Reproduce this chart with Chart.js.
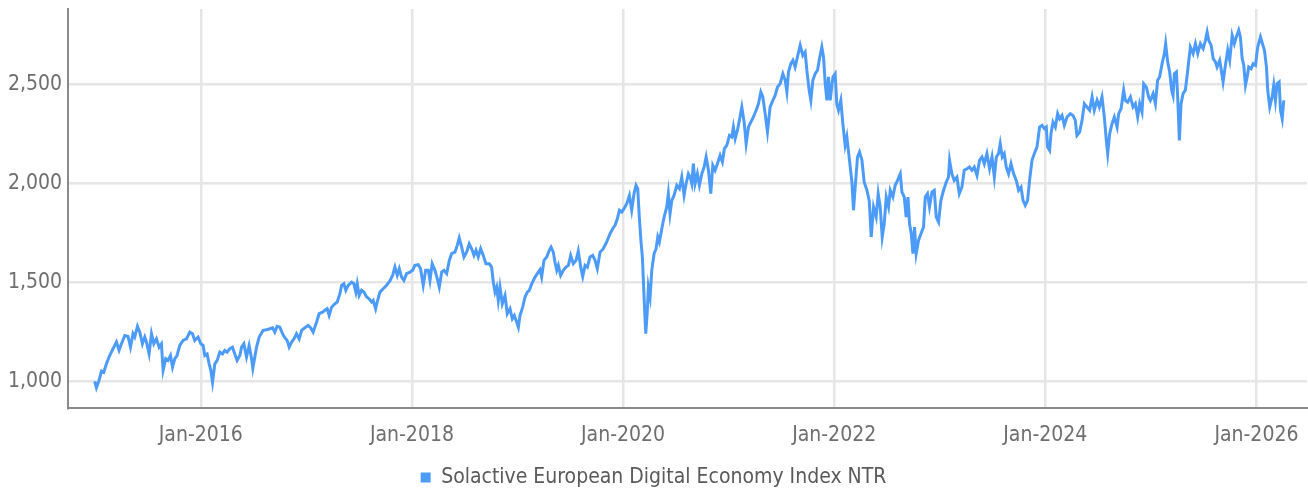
<!DOCTYPE html>
<html lang="en">
<head>
    <meta charset="UTF-8">
    <title>Solactive European Digital Economy Index NTR</title>
    <script src="https://cdn.jsdelivr.net/npm/chart.js"></script>
    <style>
        html, body { margin: 0; padding: 0; background: #ffffff; }
        #contenedor { width: 1308px; height: 493px; }
    </style>
</head>
<body>
    <div id="contenedor">
        <canvas id="grafico" width="1308" height="493"></canvas>
    </div>

    <script>
        // Series name and axis ticks
        const seriesName = 'Solactive European Digital Economy Index NTR';
        const tickYears = [2016, 2018, 2020, 2022, 2024, 2026];
        const yTicks = [1000, 1500, 2000, 2500];

        // Dates as decimal years
        const years = [
            2014.995, 2015.011, 2015.036, 2015.059, 2015.081, 2015.106, 2015.137, 2015.169, 2015.201, 2015.226,
            2015.248, 2015.280, 2015.311, 2015.334, 2015.358, 2015.374, 2015.400, 2015.422, 2015.447, 2015.469,
            2015.485, 2015.510, 2015.533, 2015.555, 2015.580, 2015.605, 2015.627, 2015.643, 2015.668, 2015.690,
            2015.713, 2015.732, 2015.754, 2015.775, 2015.801, 2015.832, 2015.864, 2015.896, 2015.921, 2015.943,
            2015.974, 2016.000, 2016.022, 2016.038, 2016.060, 2016.079, 2016.095, 2016.111, 2016.133, 2016.155,
            2016.180, 2016.206, 2016.227, 2016.249, 2016.275, 2016.300, 2016.322, 2016.344, 2016.370,
            2016.386, 2016.408, 2016.433, 2016.458, 2016.481, 2016.493, 2016.528, 2016.553, 2016.591, 2016.623,
            2016.654, 2016.680, 2016.701, 2016.723, 2016.749, 2016.774, 2016.796, 2016.818, 2016.837, 2016.860,
            2016.882, 2016.907, 2016.932, 2016.955, 2016.986, 2017.017, 2017.040, 2017.064, 2017.097, 2017.121,
            2017.154, 2017.175, 2017.197, 2017.216, 2017.239, 2017.270, 2017.292, 2017.318, 2017.334, 2017.355,
            2017.374, 2017.396, 2017.428, 2017.450, 2017.469, 2017.482, 2017.500, 2017.523, 2017.545, 2017.571,
            2017.595, 2017.618, 2017.633, 2017.656, 2017.671, 2017.697, 2017.728, 2017.760, 2017.791,
            2017.817, 2017.839, 2017.861, 2017.880, 2017.902, 2017.924, 2017.950, 2017.981, 2018.007, 2018.028,
            2018.060, 2018.082, 2018.107, 2018.130, 2018.155, 2018.171, 2018.192, 2018.218, 2018.240, 2018.259,
            2018.282, 2018.303, 2018.329, 2018.354, 2018.376, 2018.408, 2018.429, 2018.448, 2018.471, 2018.493,
            2018.518, 2018.543, 2018.566, 2018.588, 2018.607, 2018.628, 2018.651, 2018.676, 2018.701, 2018.733,
            2018.755, 2018.771, 2018.787, 2018.803, 2018.818, 2018.834, 2018.856, 2018.882, 2018.903, 2018.929,
            2018.951, 2018.970, 2018.992, 2019.008, 2019.024, 2019.049, 2019.071, 2019.093, 2019.112, 2019.135,
            2019.166, 2019.188, 2019.213,
            2019.229, 2019.251, 2019.277, 2019.301, 2019.318, 2019.339, 2019.355, 2019.372, 2019.387, 2019.409,
            2019.434, 2019.460, 2019.482, 2019.504, 2019.529, 2019.555, 2019.576, 2019.599, 2019.618, 2019.640,
            2019.662, 2019.687, 2019.713, 2019.735, 2019.756, 2019.782, 2019.813, 2019.845, 2019.877, 2019.902,
            2019.924, 2019.946, 2019.965, 2019.988, 2020.009, 2020.035, 2020.060, 2020.082, 2020.104, 2020.123,
            2020.139, 2020.154, 2020.168, 2020.183, 2020.199, 2020.215, 2020.230, 2020.240, 2020.256, 2020.272,
            2020.294, 2020.313, 2020.329, 2020.344, 2020.367, 2020.389, 2020.414, 2020.429, 2020.445, 2020.462,
            2020.483, 2020.509, 2020.534, 2020.556, 2020.578, 2020.597, 2020.619, 2020.635,
            2020.651, 2020.666, 2020.682, 2020.704, 2020.723, 2020.746, 2020.768, 2020.787, 2020.809, 2020.831,
            2020.850, 2020.872, 2020.894, 2020.919, 2020.941, 2020.960, 2020.983, 2021.008, 2021.030, 2021.045,
            2021.062, 2021.083, 2021.102, 2021.125, 2021.147, 2021.166, 2021.188, 2021.210, 2021.235, 2021.261,
            2021.283, 2021.305, 2021.324, 2021.346, 2021.368, 2021.393, 2021.419, 2021.441, 2021.463, 2021.488,
            2021.514, 2021.536, 2021.552, 2021.567, 2021.590, 2021.609, 2021.630, 2021.652, 2021.678, 2021.703,
            2021.725, 2021.741, 2021.763, 2021.779, 2021.798, 2021.820, 2021.842, 2021.861, 2021.883, 2021.899,
            2021.915, 2021.931, 2021.946, 2021.962, 2021.988, 2022.009, 2022.025, 2022.041, 2022.063, 2022.082,
            2022.104, 2022.120, 2022.145, 2022.168, 2022.183, 2022.199, 2022.221, 2022.240, 2022.263, 2022.284,
            2022.310, 2022.332, 2022.351, 2022.373, 2022.398, 2022.417, 2022.436, 2022.455, 2022.474, 2022.493,
            2022.515, 2022.531, 2022.556, 2022.578, 2022.600, 2022.626, 2022.642, 2022.664, 2022.682, 2022.699,
            2022.714, 2022.730, 2022.746, 2022.761, 2022.777, 2022.799, 2022.822, 2022.846, 2022.863, 2022.884,
            2022.903, 2022.926, 2022.948, 2022.967, 2022.989, 2023.011, 2023.036, 2023.062, 2023.083, 2023.093,
            2023.115, 2023.137, 2023.163, 2023.185, 2023.210, 2023.232, 2023.258, 2023.282, 2023.305, 2023.327,
            2023.353, 2023.377, 2023.400, 2023.422, 2023.447, 2023.472, 2023.495, 2023.517, 2023.536, 2023.557,
            2023.573, 2023.592, 2023.611, 2023.630, 2023.652, 2023.675, 2023.700, 2023.725, 2023.747, 2023.770,
            2023.789, 2023.810, 2023.832, 2023.851, 2023.874, 2023.896, 2023.921, 2023.946, 2023.969, 2023.991,
            2024.009, 2024.022, 2024.041, 2024.054, 2024.073, 2024.095, 2024.117, 2024.136, 2024.158, 2024.180,
            2024.206, 2024.237, 2024.262, 2024.284, 2024.300, 2024.325, 2024.348, 2024.370, 2024.395, 2024.420,
            2024.443, 2024.464, 2024.490, 2024.512, 2024.537, 2024.559, 2024.578, 2024.591, 2024.610, 2024.632,
            2024.654, 2024.680, 2024.695, 2024.718, 2024.742, 2024.758, 2024.780, 2024.806, 2024.831, 2024.853,
            2024.875, 2024.894, 2024.916, 2024.932, 2024.957, 2024.979, 2024.995, 2025.021, 2025.043, 2025.064,
            2025.083, 2025.106, 2025.128, 2025.140, 2025.159, 2025.178, 2025.197, 2025.210, 2025.223, 2025.242,
            2025.254, 2025.270, 2025.286, 2025.305, 2025.327, 2025.349, 2025.374, 2025.400, 2025.422, 2025.444,
            2025.469, 2025.495, 2025.517, 2025.533, 2025.548, 2025.571, 2025.590, 2025.611, 2025.627, 2025.652,
            2025.665, 2025.684, 2025.706, 2025.728, 2025.747, 2025.770, 2025.791, 2025.810, 2025.832, 2025.848,
            2025.865, 2025.880, 2025.896, 2025.912, 2025.927, 2025.950, 2025.969, 2025.991, 2026.012, 2026.038,
            2026.057, 2026.076, 2026.095, 2026.107, 2026.126, 2026.149, 2026.164, 2026.180, 2026.196, 2026.215,
            2026.228, 2026.244, 2026.259
        ];

        // Index level
        const values = [
            1000, 968, 1005, 1052, 1047, 1089, 1131, 1165, 1199, 1157,
            1190, 1232, 1227, 1173, 1241, 1224, 1278, 1249, 1190, 1224,
            1199, 1139, 1241, 1190, 1215, 1173, 1190, 1056, 1115, 1106,
            1131, 1072, 1115, 1131, 1182, 1207, 1215, 1249, 1241, 1207,
            1224, 1190, 1182, 1131, 1139, 1089, 1056, 996, 1089, 1106,
            1148, 1139, 1157, 1148, 1165, 1173, 1139, 1106, 1131,
            1173, 1190, 1123, 1182, 1115, 1066, 1173, 1224, 1258, 1261,
            1266, 1271, 1249, 1278, 1274, 1241, 1221, 1207, 1173, 1199,
            1215, 1241, 1215, 1258, 1271, 1283, 1271, 1249, 1300, 1342,
            1350, 1359, 1367, 1333, 1375, 1392, 1401, 1443, 1485, 1493,
            1460, 1485, 1501, 1493, 1451, 1493, 1434, 1460, 1451, 1426,
            1417, 1401, 1409, 1367, 1401, 1451, 1468, 1485, 1507,
            1535, 1577, 1535, 1569, 1527, 1510, 1544, 1552, 1561, 1586,
            1589, 1569, 1485, 1561, 1561, 1510, 1594, 1561, 1519, 1476,
            1552, 1561, 1544, 1611, 1645, 1653, 1687, 1725, 1678, 1628,
            1653, 1695, 1670, 1636, 1662, 1628, 1670, 1636, 1594, 1594,
            1577, 1501, 1451, 1476, 1409, 1476, 1392, 1434, 1342, 1367,
            1316, 1333, 1300, 1274, 1333, 1375, 1426, 1451, 1460, 1493,
            1527, 1544, 1564,
            1527, 1611, 1628, 1662, 1678, 1653, 1603, 1561, 1586, 1535,
            1561, 1577, 1586, 1636, 1594, 1611, 1658, 1577, 1530, 1586,
            1577, 1628, 1636, 1611, 1569, 1653, 1670, 1704, 1746, 1771,
            1788, 1821, 1864, 1855, 1872, 1897, 1939, 1864, 1948, 1990,
            1973, 1830, 1720, 1628, 1426, 1241, 1359, 1476, 1426, 1561,
            1645, 1670, 1729, 1704, 1771, 1830, 1881, 1948, 1847, 1914,
            1939, 1990, 1973, 2032, 1939, 1998, 2048, 2032,
            1998, 2099, 1998, 2048, 1990, 2048, 2082, 2133, 2066, 1948,
            2091, 2066, 2099, 2141, 2108, 2175, 2192, 2242, 2234, 2284,
            2225, 2267, 2318, 2385, 2309, 2200, 2284, 2309, 2335, 2369,
            2402, 2461, 2436, 2352, 2259, 2385, 2419, 2444, 2486, 2503,
            2553, 2520, 2461, 2562, 2604, 2621, 2587, 2638, 2697, 2646,
            2663, 2571, 2470, 2419, 2520, 2553, 2571, 2630, 2688, 2638,
            2503, 2419, 2537, 2419, 2537, 2553, 2400, 2369, 2419, 2301,
            2192, 2234, 2116, 2007, 1864, 1981, 2133, 2158, 2116, 2007,
            1965, 1914, 1729, 1881, 1830, 1948, 1881, 1729, 1796, 1931,
            1881, 1965, 1931, 1990, 2015, 2048, 1956, 1931, 1830, 1931,
            1796, 1746, 1645, 1779, 1645, 1712, 1746, 1779, 1931, 1948,
            1881, 1956, 1965, 1830, 1805, 1914, 1965, 2007, 2032, 2116,
            2048, 2015, 2032, 1948, 1981, 2066, 2074, 2082, 2066, 2082,
            2040, 2116, 2133, 2099, 2150, 2074, 2133, 2032, 2133, 2150,
            2200, 2133, 2150, 2082, 2048, 2099, 2048, 2015, 1965, 1981,
            1914, 1889, 1914, 2015, 2116, 2150, 2183, 2284, 2293, 2276,
            2284, 2183, 2166, 2251, 2309, 2284, 2352, 2326, 2343, 2293,
            2335, 2352, 2343, 2318, 2242, 2259, 2318, 2402, 2385, 2369,
            2436, 2369, 2419, 2385, 2436, 2335, 2217, 2150, 2251, 2301,
            2335, 2284, 2352, 2377, 2470, 2419, 2410, 2436, 2385, 2402,
            2335, 2402, 2360, 2503, 2486, 2436, 2419, 2453, 2402, 2520,
            2537, 2604, 2655, 2705, 2613, 2562, 2470, 2444, 2553, 2562,
            2436, 2217, 2402, 2453, 2470, 2571, 2688, 2655, 2705, 2655,
            2705, 2680, 2722, 2764, 2722, 2697, 2630, 2613, 2587, 2621,
            2579, 2512, 2596, 2672, 2621, 2747, 2705, 2739, 2773, 2739,
            2630, 2596, 2495, 2537, 2587, 2579, 2604, 2596, 2688, 2739,
            2705, 2672, 2587, 2470, 2385, 2436, 2495, 2419, 2503, 2512,
            2369, 2326, 2419
        ];

        const fuente = "'DejaVu Sans Condensed', 'DejaVu Sans', sans-serif";
        const azul = '#4d9bf9';

        const ctx = document.getElementById('grafico').getContext('2d');
        const grafico = new Chart(ctx, {
            type: 'line',
            data: {
                datasets: [{
                    label: seriesName,
                    data: years.map((t, i) => ({ x: t, y: values[i] })),
                    borderColor: azul,
                    backgroundColor: azul,
                    borderWidth: 3,
                    pointRadius: 0,
                    tension: 0
                }]
            },
            options: {
                responsive: false,
                animation: false,
                layout: { padding: { top: 9, right: 1, left: 0, bottom: -5 } },
                scales: {
                    x: {
                        type: 'linear',
                        min: 2014.742,
                        max: 2026.479,
                        afterBuildTicks: s => { s.ticks = tickYears.map(v => ({ value: v })); },
                        afterFit: s => { s.height = 55; s.paddingLeft = 0; s.paddingRight = 0; },
                        grid: { color: '#e6e6e6', lineWidth: 2.5, drawTicks: false },
                        border: { color: '#8a8a8a', width: 2 },
                        ticks: {
                            padding: 15,
                            color: '#6e6e6e',
                            autoSkip: false,
                            maxRotation: 0,
                            font: { family: fuente, size: 21 },
                            callback: v => 'Jan-' + v
                        }
                    },
                    y: {
                        min: 866,
                        max: 2880,
                        afterBuildTicks: s => { s.ticks = yTicks.map(v => ({ value: v })); },
                        afterFit: s => { s.width = 68; s.paddingTop = 0; s.paddingBottom = 0; },
                        grid: { color: '#e6e6e6', lineWidth: 2.5, drawTicks: false },
                        border: { color: '#8a8a8a', width: 2 },
                        ticks: {
                            padding: 6,
                            color: '#6e6e6e',
                            font: { family: fuente, size: 21 },
                            callback: v => v.toLocaleString('en-US')
                        }
                    }
                },
                plugins: {
                    legend: {
                        position: 'bottom',
                        labels: {
                            boxWidth: 10,
                            boxHeight: 10,
                            padding: 4,
                            color: '#5a5a5a',
                            font: { family: fuente, size: 21 },
                            generateLabels: chart => {
                                const items = Chart.defaults.plugins.legend.labels.generateLabels(chart);
                                items.forEach(it => { it.lineWidth = 0; });
                                return items;
                            }
                        }
                    },
                    tooltip: { enabled: false }
                }
            }
        });
    </script>
</body>
</html>
